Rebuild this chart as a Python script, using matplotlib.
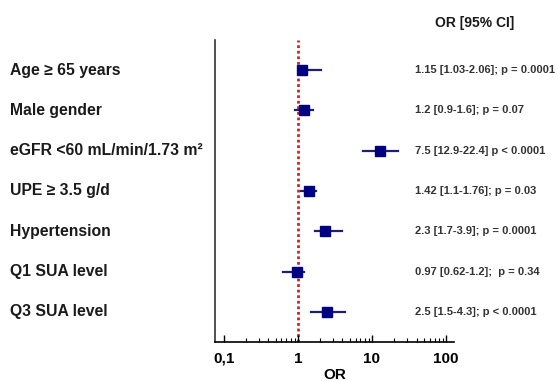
import matplotlib
matplotlib.use("Agg")
import matplotlib.pyplot as plt
from matplotlib.ticker import FixedLocator, NullFormatter

plt.rcParams['font.family'] = ['Liberation Sans', 'DejaVu Sans']

labels = ["Age \u2265 65 years", "Male gender", "eGFR <60 mL/min/1.73 m\u00b2",
          "UPE \u2265 3.5 g/d", "Hypertension", "Q1 SUA level", "Q3 SUA level"]
or_vals = [1.15, 1.2, 12.9, 1.42, 2.3, 0.97, 2.5]
ci_low = [1.03, 0.9, 7.5, 1.1, 1.7, 0.62, 1.5]
ci_high = [2.06, 1.6, 22.4, 1.76, 3.9, 1.2, 4.3]
annotations = ["1.15 [1.03-2.06]; p = 0.0001", "1.2 [0.9-1.6]; p = 0.07",
               "7.5 [12.9-22.4] p < 0.0001", "1.42 [1.1-1.76]; p = 0.03",
               "2.3 [1.7-3.9]; p = 0.0001", "0.97 [0.62-1.2];  p = 0.34",
               "2.5 [1.5-4.3]; p < 0.0001"]
xticks = [0.1, 1, 10, 100]
xticklabels = ["0,1", "1", "10", "100"]

fig = plt.figure(figsize=(5.57, 3.81), dpi=100)
ax = fig.add_axes([0.386, 0.1024, 0.429, 0.7926])

ys = list(range(len(labels)))
navy = "#000080"
ax.axvline(1, color="#d42020", linestyle=(0, (1, 1)), linewidth=2, zorder=1)
for y, o, lo, hi in zip(ys, or_vals, ci_low, ci_high):
    ax.plot([lo, hi], [y, y], color="#1f1f6e", linewidth=1.6, zorder=2)
ax.plot(or_vals, ys, linestyle="none", marker="s", markersize=6.5,
        color=navy, zorder=3)

ax.set_xscale("log")
ax.set_xlim(0.076, 128)
ax.set_ylim(6.75, -0.75)

minor = [m * d for d in (0.1, 1, 10) for m in range(2, 10)]
ax.xaxis.set_major_locator(FixedLocator(xticks))
ax.set_xticklabels(xticklabels, fontsize=11, fontweight="bold")
ax.xaxis.set_minor_locator(FixedLocator(minor))
ax.xaxis.set_minor_formatter(NullFormatter())
ax.tick_params(axis="x", which="major", direction="in", length=5, width=1,
               pad=7)
ax.tick_params(axis="x", which="minor", direction="in", length=3, width=0.8)
ax.tick_params(axis="y", left=False, labelleft=False)
ax.set_xlabel("OR", fontsize=11, fontweight="bold", labelpad=2)

for s in ["top", "right"]:
    ax.spines[s].set_visible(False)
ax.spines["left"].set_linewidth(1.2)
ax.spines["bottom"].set_linewidth(1.2)
ax.spines["left"].set_color("#333333")

for y, lab in zip(ys, labels):
    ax.annotate(lab, xy=(10 / 557, y), xycoords=("figure fraction", "data"),
                fontsize=11.3, fontweight="bold", va="center", ha="left",
                color="#1a1a1a")
for y, a in zip(ys, annotations):
    ax.annotate(a, xy=(415 / 557, y), xycoords=("figure fraction", "data"),
                fontsize=8, fontweight="bold", va="center", ha="left",
                color="#333333")

fig.text(475 / 557, 1 - 23 / 381, "OR [95% CI]", fontsize=10, fontweight="bold",
         ha="center", va="center", color="#1a1a1a")

fig.savefig("out.png", dpi=100)
